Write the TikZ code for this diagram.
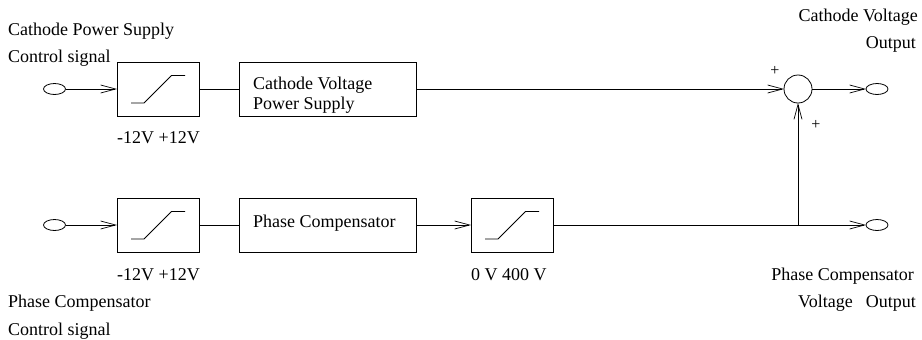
\documentclass[tikz,border=0pt]{standalone}
\usepackage{fontspec}
\setmainfont{Liberation Serif}
\usetikzlibrary{shapes.geometric,arrows.meta}
\tikzset{
box/.style={rectangle,draw=black,line width=0.8pt,minimum height=54pt,inner sep=0pt,outer sep=0pt},
term/.style={ellipse,draw=black,line width=0.8pt,minimum width=22pt,minimum height=11pt,inner sep=0pt,outer sep=0pt},
sum/.style={circle,draw=black,line width=0.8pt,minimum size=28pt,inner sep=0pt,outer sep=0pt},
txt/.style={anchor=base west,inner sep=0pt,font=\fontsize{18pt}{20pt}\selectfont},
txtr/.style={anchor=base east,inner sep=0pt,font=\fontsize{18pt}{20pt}\selectfont},
sgn/.style={inner sep=0pt,font=\fontsize{16pt}{18pt}\selectfont},
sig/.style={line width=0.8pt,-{Straight Barb[length=15pt,width=8pt,line width=0.7pt]}},
wire/.style={line width=0.8pt}
}
\begin{document}
\begin{tikzpicture}[x=1pt,y=-1pt]
\useasboundingbox (0,0) rectangle (922,340);
% upper path
\node[term] (inA) at(54.5,89) {};
\node[box,minimum width=82pt] (satA) at(158,89) {};
\node[box,minimum width=177pt] (PS) at(328,89) {};
\node[sum] (add) at(798,89) {};
\node[term] (outA) at(877,89) {};
% lower path
\node[term] (inB) at(54.5,225) {};
\node[box,minimum width=82pt] (satB) at(158,225) {};
\node[box,minimum width=177pt] (PC) at(328,225) {};
\node[box,minimum width=82pt] (satC) at(512,225) {};
\node[term] (outB) at(877,225) {};
\coordinate (tap) at(798,225);
% limiter curves
\foreach \s in {satA,satB,satC}
  \draw[wire] ([shift={(-27,14)}]\s.center) -- ++(13,0) -- ++(27.5,-27.5) -- ++(13.5,0);
% connectors
\draw[sig] (inA) -- (satA);
\draw[wire] (satA) -- (PS);
\draw[sig] (PS) -- (add);
\draw[sig] (add) -- (outA);
\draw[sig] (inB) -- (satB);
\draw[wire] (satB) -- (PC);
\draw[sig] (PC) -- (satC);
\draw[sig] (satC) -- (outB);
\draw[sig] (tap) -- (add);
% labels
\node[txt] (PSa) at(253,89) {Cathode Voltage};
\node[txt] (PSb) at(253,109) {Power Supply};
\node[txt] (PCa) at(253,227) {Phase Compensator};
\node[txt] (inAa) at(8,35) {Cathode Power Supply};
\node[txt] (inAb) at(8,62) {Control signal};
\node[txt] (inBa) at(8,307) {Phase Compensator};
\node[txt] (inBb) at(8,335) {Control signal};
\node[txt] (rngA) at(117,143) {-12V +12V};
\node[txt] (rngB) at(117,280) {-12V +12V};
\node[txt] (rngC) at(471,280) {0 V 400 V};
\node[txtr] (outAa) at(918,21) {Cathode Voltage};
\node[txtr] (outAb) at(916,48) {Output};
\node[txtr] (outBa) at(914,280) {Phase Compensator};
\node[txtr] (outBb) at(916,307) {Voltage\hspace{13pt}Output};
\node[sgn] (plusA) at(775,71) {+};
\node[sgn] (plusB) at(816,125) {+};
\end{tikzpicture}
\end{document}
